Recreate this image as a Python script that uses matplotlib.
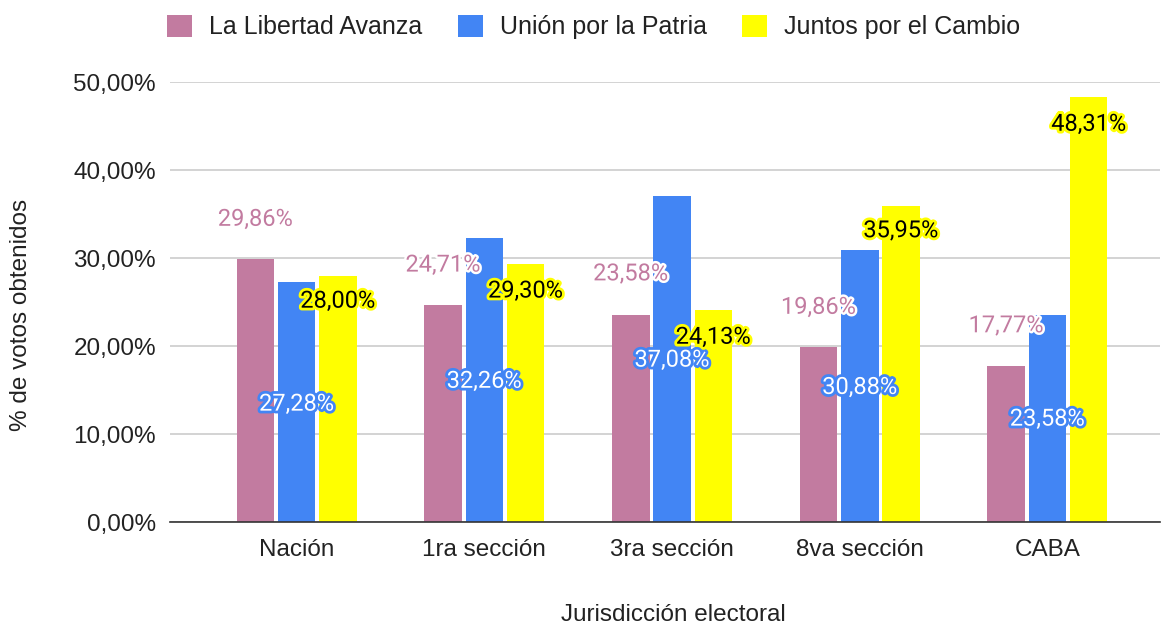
import matplotlib.pyplot as plt
import matplotlib.patheffects as pe
import numpy as np

plt.rcParams['font.family'] = ['Liberation Sans', 'DejaVu Sans']

categories = ['Nación', '1ra sección', '3ra sección', '8va sección', 'CABA']
parties = ['La Libertad Avanza', 'Unión por la Patria', 'Juntos por el Cambio']
lla = [29.86, 24.71, 23.58, 19.86, 17.77]
uxp = [27.28, 32.26, 37.08, 30.88, 23.58]
jxc = [28.00, 29.30, 24.13, 35.95, 48.31]

# where the chart tool put each data label (in % units)
label_y = {
    'lla': [34.4, 29.2, 28.2, 24.4, 22.3],
    'uxp': [13.4, 16.0, 18.4, 15.3, 11.7],
    'jxc': [25.1, 26.25, 21.0, 33.1, 45.2],
}

colors = ['#C27BA0', '#4285F4', '#FFFF00']
FS = 17.5
LBL_FONT = ['Roboto', 'DejaVu Sans']


def fmt(v):
    return ('%.2f%%' % v).replace('.', ',')


fig = plt.figure(figsize=(11.62, 6.26), dpi=100)
ax = fig.add_axes([0.1463, 0.166, 0.852, 0.703])

x = np.arange(len(categories))
width = 0.2
offs = [-0.22, 0, 0.22]
series = [lla, uxp, jxc]

for i, (vals, col, name) in enumerate(zip(series, colors, parties)):
    ax.bar(x + offs[i], vals, width, color=col, label=name, zorder=3)

# data labels
for j in range(len(categories)):
    ax.text(x[j] + offs[0], label_y['lla'][j], fmt(lla[j]), ha='center', va='center',
            fontsize=17, family=LBL_FONT, color='#C27BA0', zorder=5,
            path_effects=[pe.withStroke(linewidth=3.5, foreground='white')])
    ax.text(x[j] + offs[1], label_y['uxp'][j], fmt(uxp[j]), ha='center', va='center',
            fontsize=17, family=LBL_FONT, color='white', zorder=5,
            path_effects=[pe.withStroke(linewidth=4, foreground='#4285F4')])
    ax.text(x[j] + offs[2], label_y['jxc'][j], fmt(jxc[j]), ha='center', va='center',
            fontsize=17, family=LBL_FONT, color='black', zorder=5,
            path_effects=[pe.withStroke(linewidth=4, foreground='#FFFF00')])

ax.set_ylim(0, 50)
ax.set_xlim(-0.675, 4.6)
ax.set_yticks(np.arange(0, 51, 10))
ax.set_yticklabels([fmt(v) for v in np.arange(0, 51, 10)], fontsize=FS, color='#222222')
ax.set_xticks(x)
ax.set_xticklabels(categories, fontsize=FS, color='#222222')
ax.tick_params(axis='y', length=0, pad=10)
ax.tick_params(axis='x', length=0, pad=12)
ax.grid(axis='y', color='#cccccc', linewidth=1.2, zorder=0)
for s in ['top', 'right', 'left']:
    ax.spines[s].set_visible(False)
ax.spines['bottom'].set_color('#333333')
ax.spines['bottom'].set_linewidth(1.2)
ax.spines['bottom'].set_zorder(4)

fig.text(673 / 1162, 1 - 615 / 626, 'Jurisdicción electoral', fontsize=FS,
         color='#222222', ha='center', va='center')
fig.text(21 / 1162, 1 - 315 / 626, '% de votos obtenidos', fontsize=FS,
         color='#222222', ha='center', va='center', rotation=90)

leg = fig.legend(loc='center', bbox_to_anchor=(0.5108, 1 - 27 / 626), ncol=3, frameon=False,
                 fontsize=18, handlelength=1.0, handleheight=1.0, columnspacing=1.4,
                 handletextpad=0.68)
for t in leg.get_texts():
    t.set_color('#222222')

plt.savefig('out.png', dpi=100)
